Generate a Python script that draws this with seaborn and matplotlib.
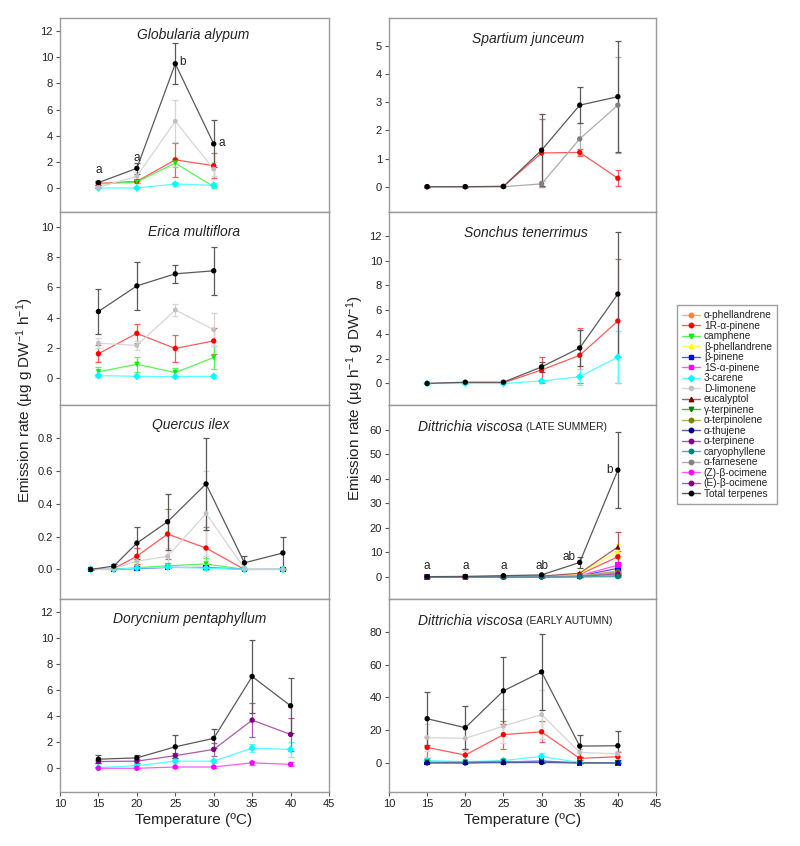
import numpy as np
import pandas as pd
import matplotlib
matplotlib.use("Agg")
import matplotlib.pyplot as plt
from matplotlib.lines import Line2D
from matplotlib.colors import to_rgb
from matplotlib.ticker import FormatStrFormatter
import seaborn as sns

sns.set_theme(style="ticks")
plt.rcParams['font.family'] = ['Liberation Sans', 'DejaVu Sans']
plt.rcParams['mathtext.default'] = 'regular'

# compounds, in legend order
compounds = ["α-phellandrene", "1R-α-pinene", "camphene", "β-phellandrene", "β-pinene",
             "1S-α-pinene", "3-carene", "D-limonene", "eucalyptol", "γ-terpinene",
             "α-terpinolene", "α-thujene", "α-terpinene", "caryophyllene", "α-farnesene",
             "(Z)-β-ocimene", "(E)-β-ocimene", "Total terpenes"]
marker_colors = ["#FF8040", "#FF0000", "#00EE00", "#FFFF00", "#0000FF", "#FF00FF", "#00FFFF",
                 "#C0C0C0", "#800000", "#008000", "#808000", "#000080", "#800080", "#008080",
                 "#808080", "#FF00FF", "#800080", "#000000"]
marker_shapes = ["o", "o", "v", "^", "s", "s", "D", "h", "^", "v", "o", "o", "o", "o", "o", "o", "o", "o"]

temps_4 = [15, 20, 25, 30]
temps_6 = [15, 20, 25, 30, 35, 40]
temps_quercus = [14, 17, 20, 24, 29, 34, 39]

# Globularia alypum
glob_mean = {"1R-α-pinene": [0.35, 0.5, 2.15, 1.7], "camphene": [0.3, 0.45, 1.9, 0.1],
             "3-carene": [0.0, 0.0, 0.3, 0.2], "D-limonene": [0.05, 0.9, 5.1, 1.45],
             "Total terpenes": [0.41, 1.5, 9.5, 3.37]}
glob_err = {"1R-α-pinene": [0.1, 0.15, 1.3, 0.95], "camphene": [0.1, 0.1, 0.3, 0.05],
            "3-carene": [0.0, 0.0, 0.15, 0.2], "D-limonene": [0.05, 0.3, 1.62, 0.5],
            "Total terpenes": [0.15, 0.4, 1.57, 1.8]}
glob_letters = [(15, 1.35, "a"), (20, 2.3, "a"), (26.0, 9.6, "b"), (31.1, 3.4, "a")]

# Erica multiflora
erica_mean = {"1R-α-pinene": [1.6, 2.95, 1.95, 2.45], "camphene": [0.4, 0.9, 0.35, 1.35],
              "3-carene": [0.15, 0.1, 0.08, 0.1], "D-limonene": [2.3, 2.15, 4.5, 3.2],
              "Total terpenes": [4.4, 6.1, 6.9, 7.1]}
erica_err = {"1R-α-pinene": [0.55, 0.65, 0.9, 0.88], "camphene": [0.35, 0.5, 0.3, 0.75],
             "3-carene": [0.1, 0.05, 0.05, 0.08], "D-limonene": [0.35, 0.3, 0.4, 1.08],
             "Total terpenes": [1.5, 1.57, 0.6, 1.58]}

# Quercus ilex
quercus_mean = {"1R-α-pinene": [0.0, 0.005, 0.08, 0.215, 0.13, 0.0, 0.0],
                "camphene": [0.0, 0.0, 0.01, 0.022, 0.033, 0.0, 0.0],
                "β-pinene": [0.0, 0.0, 0.005, 0.012, 0.012, 0.0, 0.0],
                "3-carene": [0.0, 0.0, 0.008, 0.014, 0.008, 0.0, 0.0],
                "D-limonene": [0.0, 0.005, 0.05, 0.08, 0.34, 0.005, 0.0],
                "Total terpenes": [0.0, 0.02, 0.16, 0.29, 0.52, 0.04, 0.10]}
quercus_err = {"1R-α-pinene": [0.0, 0.003, 0.05, 0.15, 0.125, 0.0, 0.0],
               "camphene": [0.0, 0.0, 0.01, 0.015, 0.035, 0.0, 0.0],
               "β-pinene": [0.0, 0.0, 0.003, 0.005, 0.008, 0.0, 0.0],
               "3-carene": [0.0, 0.0, 0.004, 0.006, 0.006, 0.0, 0.0],
               "D-limonene": [0.0, 0.003, 0.03, 0.05, 0.26, 0.003, 0.0],
               "Total terpenes": [0.003, 0.01, 0.095, 0.17, 0.28, 0.04, 0.10]}

# Dorycnium pentaphyllum
dory_mean = {"3-carene": [0.05, 0.2, 0.55, 0.55, 1.55, 1.45],
             "(Z)-β-ocimene": [0.0, 0.0, 0.1, 0.1, 0.42, 0.3],
             "(E)-β-ocimene": [0.52, 0.55, 0.97, 1.45, 3.7, 2.6],
             "Total terpenes": [0.7, 0.8, 1.65, 2.3, 7.05, 4.8]}
dory_err = {"3-carene": [0.05, 0.1, 0.15, 0.15, 0.3, 0.55],
            "(Z)-β-ocimene": [0.0, 0.0, 0.05, 0.05, 0.15, 0.15],
            "(E)-β-ocimene": [0.15, 0.15, 0.2, 0.5, 1.3, 1.25],
            "Total terpenes": [0.3, 0.2, 0.87, 0.75, 2.8, 2.1]}

# Spartium junceum
spart_mean = {"1R-α-pinene": [0.0, 0.0, 0.01, 1.2, 1.22, 0.3],
              "α-farnesene": [0.0, 0.0, 0.0, 0.1, 1.7, 2.9],
              "Total terpenes": [0.0, 0.0, 0.01, 1.3, 2.9, 3.2]}
spart_err = {"1R-α-pinene": [0.0, 0.0, 0.0, 1.2, 0.12, 0.28],
             "α-farnesene": [0.0, 0.0, 0.0, 0.1, 0.56, 1.7],
             "Total terpenes": [0.0, 0.0, 0.0, 1.28, 0.65, 1.97]}

# Sonchus tenerrimus
sonch_mean = {"1R-α-pinene": [0.0, 0.05, 0.05, 1.1, 2.3, 5.1],
              "3-carene": [0.0, 0.0, 0.0, 0.2, 0.55, 2.15],
              "Total terpenes": [0.0, 0.1, 0.1, 1.35, 2.9, 7.3]}
sonch_err = {"1R-α-pinene": [0.0, 0.0, 0.0, 1.1, 2.25, 5.1],
             "3-carene": [0.0, 0.0, 0.0, 0.1, 0.65, 2.15],
             "Total terpenes": [0.0, 0.03, 0.03, 0.4, 1.45, 5.1]}

# Dittrichia viscosa, late summer
dvls_mean = {"α-phellandrene": [0.0, 0.0, 0.0, 0.05, 0.3, 2.5],
             "1R-α-pinene": [0.0, 0.05, 0.1, 0.2, 1.0, 8.2],
             "β-phellandrene": [0.0, 0.05, 0.1, 0.2, 1.2, 10.5],
             "β-pinene": [0.0, 0.0, 0.05, 0.1, 0.4, 3.5],
             "1S-α-pinene": [0.0, 0.0, 0.05, 0.1, 0.5, 4.8],
             "D-limonene": [0.0, 0.05, 0.3, 0.5, 0.6, 1.5],
             "eucalyptol": [0.0, 0.05, 0.1, 0.3, 1.5, 12.2],
             "γ-terpinene": [0.0, 0.0, 0.0, 0.05, 0.2, 1.8],
             "α-terpinolene": [0.0, 0.0, 0.0, 0.05, 0.3, 2.0],
             "α-thujene": [0.0, 0.0, 0.0, 0.0, 0.1, 0.4],
             "α-terpinene": [0.0, 0.0, 0.0, 0.05, 0.2, 1.2],
             "caryophyllene": [0.0, 0.0, 0.0, 0.0, 0.0, 0.1],
             "Total terpenes": [0.1, 0.2, 0.5, 0.8, 5.9, 43.5]}
dvls_err = {"α-phellandrene": [0.0, 0.0, 0.0, 0.0, 0.1, 1.0],
            "1R-α-pinene": [0.0, 0.0, 0.0, 0.1, 0.4, 2.5],
            "β-phellandrene": [0.0, 0.0, 0.0, 0.1, 0.5, 3.0],
            "β-pinene": [0.0, 0.0, 0.0, 0.0, 0.2, 1.5],
            "1S-α-pinene": [0.0, 0.0, 0.0, 0.0, 0.2, 1.0],
            "D-limonene": [0.0, 0.0, 0.1, 0.2, 0.2, 0.5],
            "eucalyptol": [0.0, 0.0, 0.0, 0.1, 0.6, 6.2],
            "γ-terpinene": [0.0, 0.0, 0.0, 0.0, 0.1, 0.6],
            "α-terpinolene": [0.0, 0.0, 0.0, 0.0, 0.1, 0.7],
            "α-thujene": [0.0, 0.0, 0.0, 0.0, 0.0, 0.2],
            "α-terpinene": [0.0, 0.0, 0.0, 0.0, 0.1, 0.5],
            "caryophyllene": [0.0, 0.0, 0.0, 0.0, 0.0, 0.05],
            "Total terpenes": [0.1, 0.1, 0.2, 0.3, 2.3, 15.6]}
dvls_letters = [(15, 4.3, "a"), (20, 4.3, "a"), (25, 4.3, "a"), (30, 4.5, "ab"),
                (33.6, 8.3, "ab"), (38.9, 43.6, "b")]

# Dittrichia viscosa, early autumn
dvea_mean = {"1R-α-pinene": [9.5, 4.8, 17.3, 19.0, 2.8, 3.8],
             "β-pinene": [0.2, 0.2, 0.6, 1.2, 0.1, 0.1],
             "3-carene": [1.5, 0.8, 1.5, 4.0, 0.3, 0.2],
             "D-limonene": [15.5, 15.0, 22.5, 29.5, 6.5, 5.5],
             "γ-terpinene": [0.5, 0.5, 1.0, 0.5, 0.2, 0.1],
             "α-thujene": [0.0, 0.0, 0.2, 0.3, 0.0, 0.0],
             "Total terpenes": [27.0, 21.5, 44.0, 55.5, 10.3, 10.5]}
dvea_err = {"1R-α-pinene": [6.5, 3.5, 8.5, 6.5, 1.0, 3.0],
            "β-pinene": [0.1, 0.1, 0.3, 0.6, 0.05, 0.05],
            "3-carene": [1.0, 0.5, 1.0, 2.0, 0.2, 0.1],
            "D-limonene": [8.5, 8.0, 10.5, 15.0, 2.0, 2.0],
            "γ-terpinene": [0.3, 0.3, 0.5, 0.3, 0.1, 0.05],
            "α-thujene": [0.0, 0.0, 0.1, 0.1, 0.0, 0.0],
            "Total terpenes": [16.3, 13.0, 20.5, 23.0, 6.8, 8.7]}

# lines are drawn in a lighter shade of the marker colour
def lighten(c, f=0.35):
    r, g, b = to_rgb(c)
    return (r + (1 - r) * f, g + (1 - g) * f, b + (1 - b) * f)

line_colors = [lighten(c) for c in marker_colors]
line_pal = dict(zip(compounds, line_colors))
marker_pal = dict(zip(compounds, marker_colors))
marker_map = dict(zip(compounds, marker_shapes))

# panel layout: pixel rows of the stacked panels
row_edges = [18, 212, 405, 599, 792]
col_left = [60, 389]
col_width = [269, 267]
W, H = 800, 846

fig = plt.figure(figsize=(8, 8.46), dpi=100)


def make_ax(col, row):
    top, bot = row_edges[row], row_edges[row + 1]
    return fig.add_axes([col_left[col] / W, (H - bot) / H, col_width[col] / W, (bot - top) / H])


def draw_panel(ax, temps, means, errs):
    order = [c for c in compounds if c in means]
    rows = []
    for name in order:
        for t, v in zip(temps, means[name]):
            rows.append((name, t, v))
    df = pd.DataFrame(rows, columns=["compound", "temp", "rate"])

    for name in order:
        ax.errorbar(temps, means[name], yerr=errs[name], fmt="none", ecolor=line_pal[name],
                    elinewidth=0.9, capsize=2.5, capthick=0.9, zorder=1)
    sns.lineplot(data=df, x="temp", y="rate", hue="compound", hue_order=order,
                 palette=line_pal, linewidth=0.9, errorbar=None, legend=False, ax=ax, zorder=2)
    sns.scatterplot(data=df, x="temp", y="rate", hue="compound", hue_order=order,
                    style="compound", style_order=order, markers=marker_map,
                    palette=marker_pal, s=15, linewidth=0, legend=False, ax=ax, zorder=3)


def style_ax(ax, ylim, yticks, bottom_row):
    ax.set_xlim(10, 45)
    ax.set_ylim(*ylim)
    ax.set_yticks(yticks)
    ax.set_xticks(range(10, 46, 5))
    ax.set_xlabel("")
    ax.set_ylabel("")
    for sp in ax.spines.values():
        sp.set_visible(True)
        sp.set_color("#9a9a9a")
        sp.set_linewidth(1.0)
    ax.tick_params(axis="both", direction="out", length=3, width=0.8, color="#555555",
                   labelsize=8, labelcolor="#222222", pad=2)
    if not bottom_row:
        ax.tick_params(axis="x", bottom=False, labelbottom=False)


panels = [
    (0, 0, "Globularia alypum", None, temps_4, glob_mean, glob_err, (-1.84, 13.0), range(0, 13, 2), glob_letters, 0.494, 0.91),
    (0, 1, "Erica multiflora", None, temps_4, erica_mean, erica_err, (-1.8, 11.0), range(0, 11, 2), [], 0.498, 0.895),
    (0, 2, "Quercus ilex", None, temps_quercus, quercus_mean, quercus_err, (-0.18, 1.0), np.arange(0, 0.81, 0.2), [], 0.486, 0.895),
    (0, 3, "Dorycnium pentaphyllum", None, temps_6, dory_mean, dory_err, (-1.82, 13.0), range(0, 13, 2), [], 0.483, 0.895),
    (1, 0, "Spartium junceum", None, temps_6, spart_mean, spart_err, (-0.9, 6.0), range(0, 6), [], 0.519, 0.89),
    (1, 1, "Sonchus tenerrimus", None, temps_6, sonch_mean, sonch_err, (-1.76, 14.0), range(0, 13, 2), [], 0.514, 0.89),
    (1, 2, "Dittrichia viscosa", "(LATE SUMMER)", temps_6, dvls_mean, dvls_err, (-9.0, 70.0), range(0, 61, 10), dvls_letters, 0.5, 0.888),
    (1, 3, "Dittrichia viscosa", "(EARLY AUTUMN)", temps_6, dvea_mean, dvea_err, (-17.7, 100.0), range(0, 81, 20), [], 0.5, 0.888),
]

for col, row, title, season, temps, means, errs, ylim, yticks, letters, tx, ty in panels:
    ax = make_ax(col, row)
    draw_panel(ax, temps, means, errs)
    style_ax(ax, ylim, yticks, row == 3)
    if title == "Quercus ilex":
        ax.yaxis.set_major_formatter(FormatStrFormatter("%.1f"))
    if season is None:
        ax.text(tx, ty, title, transform=ax.transAxes, ha="center", va="center",
                style="italic", fontsize=10, color="#222222")
    else:
        ax.text(tx, ty, title, transform=ax.transAxes, ha="right", va="center",
                style="italic", fontsize=10, color="#222222")
        ax.text(tx + 0.012, ty, season, transform=ax.transAxes, ha="left", va="center",
                fontsize=7.5, color="#222222")
    for lx, ly, s in letters:
        ax.text(lx, ly, s, ha="center", va="center", fontsize=8.5, color="#222222")

# axis labels
fig.text(60 / W + 134 / W, 1 - 820 / H, "Temperature (ºC)", ha="center", va="center", fontsize=11, color="#222222")
fig.text(389 / W + 134 / W, 1 - 820 / H, "Temperature (ºC)", ha="center", va="center", fontsize=11, color="#222222")
fig.text(25 / W, 1 - 400 / H, r"Emission rate (µg g DW$^{-1}$ h$^{-1}$)", rotation=90,
         ha="center", va="center", fontsize=11, color="#222222")
fig.text(355 / W, 1 - 398 / H, r"Emission rate (µg h$^{-1}$ g DW$^{-1}$)", rotation=90,
         ha="center", va="center", fontsize=11, color="#222222")

# legend
handles = [Line2D([0], [0], color=lc, lw=1.0, marker=m, markersize=3.2,
                  markerfacecolor=mc, markeredgecolor=mc)
           for lc, mc, m in zip(line_colors, marker_colors, marker_shapes)]
leg = fig.legend(handles, compounds, loc="upper left", bbox_to_anchor=(677 / W, 1 - 305 / H),
                 fontsize=7.3, labelspacing=0.05, handlelength=1.8, handletextpad=0.35,
                 borderpad=0.5, frameon=True, fancybox=False, borderaxespad=0)
leg.get_frame().set_edgecolor("#888888")
leg.get_frame().set_linewidth(1.0)
for t in leg.get_texts():
    t.set_color("#222222")

fig.savefig("out.png", dpi=100)
